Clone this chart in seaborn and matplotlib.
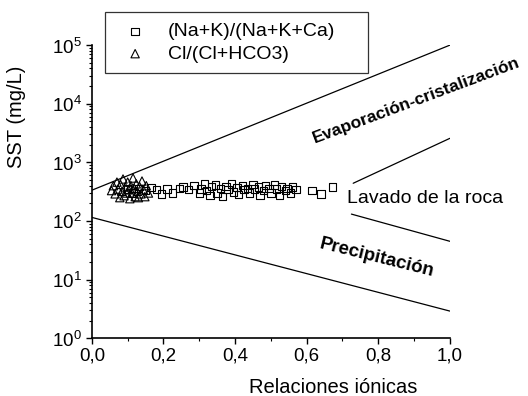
import numpy as np
import pandas as pd
import matplotlib
matplotlib.use("Agg")
import matplotlib.pyplot as plt
import matplotlib.ticker as mticker
import seaborn as sns

# Cl/(Cl+HCO3) ratios and total dissolved solids (mg/L)
cl_ratio = [0.055, 0.060, 0.065, 0.070, 0.073, 0.078, 0.080, 0.084, 0.087, 0.090,
            0.093, 0.097, 0.100, 0.103, 0.106, 0.109, 0.112, 0.115, 0.118, 0.121,
            0.124, 0.127, 0.130, 0.133, 0.137, 0.140, 0.144, 0.148, 0.152, 0.158]
cl_sst = [330, 400, 290, 460, 350, 250, 420, 320, 520, 270,
          380, 300, 460, 340, 240, 400, 300, 540, 360, 260,
          430, 320, 250, 390, 290, 480, 340, 260, 400, 300]

# (Na+K)/(Na+K+Ca) ratios and total dissolved solids (mg/L)
na_ratio = [0.100, 0.115, 0.130, 0.150, 0.165, 0.180, 0.195, 0.210, 0.225, 0.245,
            0.255, 0.270, 0.285, 0.300, 0.305, 0.315, 0.320, 0.330, 0.335,
            0.345, 0.350, 0.360, 0.365, 0.375, 0.380, 0.390, 0.395, 0.405, 0.410,
            0.420, 0.425, 0.435, 0.440, 0.450, 0.455, 0.465, 0.470, 0.480, 0.485,
            0.495, 0.500, 0.510, 0.515, 0.525, 0.530, 0.540, 0.545, 0.555, 0.560,
            0.570, 0.615, 0.640, 0.673]
na_sst = [350, 300, 360, 330, 370, 340, 290, 350, 300, 360,
          380, 340, 400, 300, 350, 430, 330, 270, 390,
          410, 300, 360, 260, 390, 340, 430, 310, 370, 280,
          400, 340, 360, 300, 420, 350, 380, 270, 330, 400,
          360, 300, 410, 350, 270, 390, 330, 360, 300, 380,
          340, 330, 290, 380]

# Boundary lines of the Gibbs diagram
upper_x, upper_y = [0.0, 1.0], [335, 100000]
lower_x, lower_y = [0.0, 1.0], [115, 2.9]
wash_hi_x, wash_hi_y = [0.73, 1.0], [440, 2570]
wash_lo_x, wash_lo_y = [0.725, 1.0], [131, 45]

sns.set_theme(style="ticks")
plt.rcParams["font.family"] = ["Liberation Sans", "DejaVu Sans"]
plt.rcParams["mathtext.fontset"] = "custom"
plt.rcParams["mathtext.rm"] = "Liberation Sans"
for key in ["text.color", "axes.labelcolor", "xtick.color", "ytick.color"]:
    plt.rcParams[key] = "black"

fig = plt.figure(figsize=(5.28, 3.96), dpi=100)
ax = fig.add_axes([0.174, 0.146, 0.678, 0.740])

for xs, ys in [(upper_x, upper_y), (lower_x, lower_y),
               (wash_hi_x, wash_hi_y), (wash_lo_x, wash_lo_y)]:
    sns.lineplot(x=xs, y=ys, ax=ax, color="black", linewidth=0.9)

na_df = pd.DataFrame({"x": na_ratio, "y": na_sst})
cl_df = pd.DataFrame({"x": cl_ratio, "y": cl_sst})
sns.scatterplot(data=na_df, x="x", y="y", ax=ax, marker="s", s=28,
                facecolor="none", edgecolor="black", linewidth=0.8,
                label="(Na+K)/(Na+K+Ca)")
sns.scatterplot(data=cl_df, x="x", y="y", ax=ax, marker="^", s=36,
                facecolor="none", edgecolor="black", linewidth=0.8,
                label="Cl/(Cl+HCO3)")

ax.set_yscale("log")
ax.set_xlim(0, 1)
ax.set_ylim(1, 1e5)
ax.xaxis.set_major_locator(mticker.MultipleLocator(0.2))
ax.xaxis.set_minor_locator(mticker.MultipleLocator(0.1))
ax.xaxis.set_major_formatter(mticker.FuncFormatter(lambda v, p: f"{v:.1f}".replace(".", ",")))
ax.yaxis.set_major_locator(mticker.LogLocator(base=10, numticks=10))
ax.yaxis.set_minor_locator(mticker.LogLocator(base=10, subs=np.arange(2, 10), numticks=10))
ax.yaxis.set_major_formatter(mticker.FuncFormatter(lambda v, p: f"$10^{{{int(round(np.log10(v)))}}}$"))
ax.tick_params(axis="both", which="major", length=4, width=1, labelsize=13.5, pad=3)
ax.tick_params(axis="both", which="minor", length=2.5, width=0.8)
for s in ["left", "bottom"]:
    ax.spines[s].set_color("black")
    ax.spines[s].set_linewidth(1.2)
sns.despine(ax=ax)

ax.set_xlabel("Relaciones iónicas", fontsize=14.5)
ax.xaxis.set_label_coords(0.673, -0.135)
ax.set_ylabel("SST (mg/L)", fontsize=14.5)
ax.yaxis.set_label_coords(-0.185, 0.754)

ax.text(0.905, 11500, "Evaporación-cristalización", rotation=20.5, fontsize=12.5,
        fontweight="bold", ha="center", va="center", clip_on=False)
ax.text(0.9316, 240, "Lavado de la roca", fontsize=14, ha="center", va="center",
        clip_on=False)
ax.text(0.796, 23, "Precipitación", rotation=-14, fontsize=13.5,
        fontweight="bold", ha="center", va="center")

leg = ax.legend(loc="upper left",
                bbox_to_anchor=(105 / 528, 1 - 77 / 396, 263 / 528, 65 / 396),
                bbox_transform=fig.transFigure, mode="expand", borderaxespad=0,
                fontsize=14, frameon=True, fancybox=False, edgecolor="black",
                borderpad=0.55, handlelength=2.0, handletextpad=0.7,
                labelspacing=0.25)
leg.get_frame().set_linewidth(0.9)

fig.savefig("out.png", dpi=100)
